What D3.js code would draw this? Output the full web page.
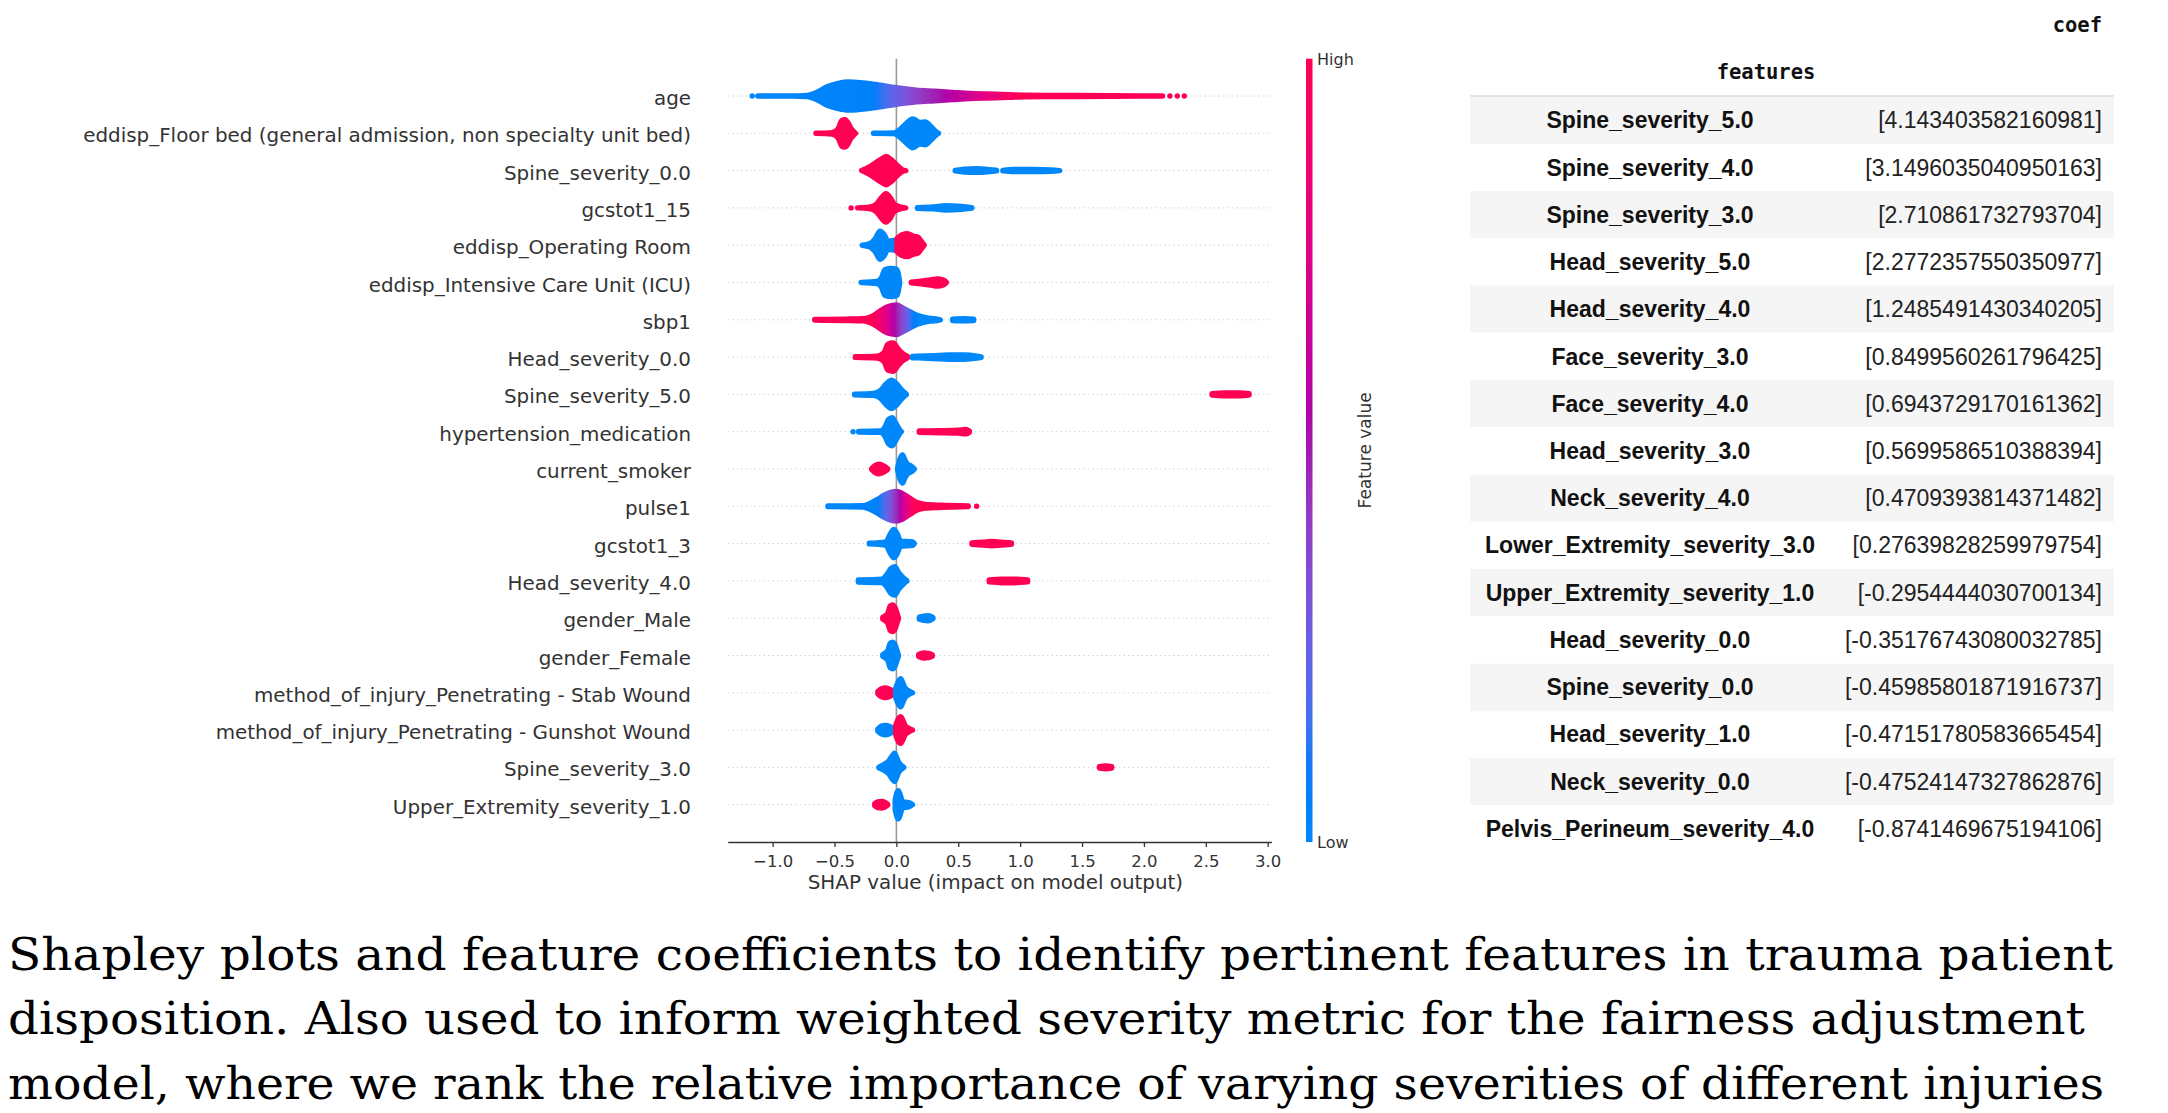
<!DOCTYPE html>
<html><head><meta charset="utf-8">
<script src="https://cdn.jsdelivr.net/npm/d3@7"></script>
<style>html,body{margin:0;padding:0;background:#fff;} svg{display:block}</style>
</head><body>
<svg id="chart" width="2168" height="1113"></svg>
<script>
// ---------------- DATA ----------------
const features = [
  "age",
  "eddisp_Floor bed (general admission, non specialty unit bed)",
  "Spine_severity_0.0",
  "gcstot1_15",
  "eddisp_Operating Room",
  "eddisp_Intensive Care Unit (ICU)",
  "sbp1",
  "Head_severity_0.0",
  "Spine_severity_5.0",
  "hypertension_medication",
  "current_smoker",
  "pulse1",
  "gcstot1_3",
  "Head_severity_4.0",
  "gender_Male",
  "gender_Female",
  "method_of_injury_Penetrating - Stab Wound",
  "method_of_injury_Penetrating - Gunshot Wound",
  "Spine_severity_3.0",
  "Upper_Extremity_severity_1.0"
];
const xTicks = [-1.0, -0.5, 0.0, 0.5, 1.0, 1.5, 2.0, 2.5, 3.0];
const colorbarLabels = ["Low", "High"];

// swarm outlines: [SHAP value, half-height in rows]
const age_all = [[-1.12,0.07],[-0.85,0.07],[-0.72,0.09],[-0.65,0.16],[-0.56,0.32],[-0.47,0.41],[-0.39,0.45],[-0.27,0.42],[-0.13,0.36],[-0.01,0.30],[0.16,0.23],[0.31,0.20],[0.45,0.17],[0.59,0.14],[0.74,0.125],[0.91,0.11],[1.03,0.095],[1.46,0.085],[2.15,0.075]];
const age_colors = [[-1.2,0],[-0.2,0.05],[0.0,0.25],[0.2,0.42],[0.4,0.55],[0.65,0.72],[0.9,0.92],[1.0,1],[2.2,1]];
const floor_high = [[-0.65,0.07],[-0.52,0.09],[-0.47,0.2],[-0.44,0.42],[-0.415,0.44],[-0.39,0.35],[-0.37,0.22],[-0.345,0.12],[-0.33,0.07]];
const floor_low = [[-0.185,0.06],[-0.02,0.08],[0.02,0.15],[0.075,0.32],[0.133,0.46],[0.19,0.36],[0.234,0.38],[0.277,0.26],[0.32,0.12],[0.34,0.07]];
const spine0_high = [[-0.28,0.07],[-0.213,0.18],[-0.156,0.31],[-0.112,0.40],[-0.083,0.45],[-0.04,0.36],[0.003,0.22],[0.046,0.1],[0.075,0.07]];
const spine0_low_a = [[0.475,0.08],[0.55,0.11],[0.65,0.12],[0.75,0.1],[0.81,0.08]];
const spine0_low_b = [[0.86,0.08],[0.95,0.1],[1.1,0.1],[1.25,0.09],[1.32,0.07]];
const gcs15_high = [[-0.313,0.07],[-0.22,0.09],[-0.16,0.18],[-0.12,0.35],[-0.085,0.45],[-0.05,0.35],[-0.02,0.18],[0.03,0.1],[0.075,0.07]];
const gcs15_low = [[0.17,0.08],[0.3,0.1],[0.4,0.13],[0.5,0.12],[0.61,0.08]];
const or_low = [[-0.276,0.07],[-0.213,0.12],[-0.17,0.25],[-0.133,0.45],[-0.098,0.35],[-0.069,0.18],[-0.026,0.2],[0.0,0.2]];
const or_high = [[0.005,0.25],[0.046,0.35],[0.09,0.38],[0.133,0.32],[0.177,0.28],[0.2,0.18],[0.225,0.07]];
const icu_low = [[-0.285,0.07],[-0.155,0.1],[-0.12,0.2],[-0.092,0.42],[-0.04,0.45],[0.003,0.42],[0.026,0.1]];
const icu_high = [[0.12,0.08],[0.2,0.11],[0.28,0.14],[0.33,0.17],[0.38,0.14],[0.405,0.07]];
const sbp_all = [[-0.66,0.08],[-0.41,0.09],[-0.27,0.1],[-0.21,0.15],[-0.156,0.25],[-0.098,0.38],[-0.04,0.45],[0.003,0.47],[0.046,0.4],[0.104,0.3],[0.162,0.2],[0.248,0.12],[0.306,0.1],[0.355,0.07]];
const sbp_colors = [[-0.7,1],[-0.2,1],[-0.12,0.85],[-0.03,0.6],[0.05,0.35],[0.13,0.1],[0.2,0],[0.4,0]];
const sbp_low = [[0.455,0.09],[0.55,0.1],[0.625,0.09]];
const head0_high = [[-0.332,0.08],[-0.156,0.1],[-0.098,0.2],[-0.069,0.42],[-0.026,0.45],[0.012,0.3],[0.046,0.18],[0.09,0.09]];
const head0_low = [[0.13,0.09],[0.3,0.11],[0.42,0.13],[0.55,0.13],[0.65,0.1],[0.685,0.08]];
const spine5_low = [[-0.338,0.08],[-0.184,0.1],[-0.127,0.18],[-0.083,0.35],[-0.04,0.45],[0.003,0.35],[0.046,0.18],[0.08,0.08]];
const spine5_high = [[2.55,0.09],[2.65,0.11],[2.78,0.11],[2.85,0.09]];
const hyper_low = [[-0.305,0.08],[-0.127,0.09],[-0.092,0.2],[-0.063,0.4],[-0.034,0.45],[-0.005,0.3],[0.032,0.1],[0.04,0.07]];
const hyper_high = [[0.185,0.09],[0.35,0.1],[0.5,0.11],[0.56,0.13],[0.59,0.09]];
const smoker_high = [[-0.2,0.08],[-0.17,0.17],[-0.14,0.2],[-0.11,0.17],[-0.085,0.12],[-0.07,0.07]];
const smoker_low = [[0.01,0.1],[0.03,0.35],[0.05,0.45],[0.07,0.3],[0.09,0.2],[0.12,0.15],[0.145,0.07]];
const pulse_all = [[-0.553,0.08],[-0.27,0.09],[-0.213,0.15],[-0.156,0.25],[-0.098,0.37],[-0.04,0.45],[0.003,0.47],[0.046,0.42],[0.104,0.3],[0.162,0.18],[0.234,0.12],[0.364,0.1],[0.58,0.08]];
const pulse_colors = [[-0.6,0],[-0.15,0.05],[-0.05,0.3],[0.03,0.55],[0.1,0.85],[0.15,1],[0.7,1]];
const gcs3_low = [[-0.219,0.08],[-0.083,0.12],[-0.054,0.3],[-0.02,0.45],[0.012,0.3],[0.032,0.14],[0.133,0.12],[0.145,0.07]];
const gcs3_high = [[0.61,0.09],[0.7,0.11],[0.77,0.13],[0.85,0.11],[0.93,0.09]];
const head4_low = [[-0.307,0.1],[-0.119,0.12],[-0.075,0.25],[-0.046,0.4],[-0.012,0.45],[0.017,0.3],[0.055,0.16],[0.085,0.08]];
const head4_high = [[0.75,0.1],[0.85,0.12],[0.95,0.12],[1.06,0.1]];
const male_high = [[-0.11,0.1],[-0.07,0.2],[-0.05,0.4],[-0.03,0.43],[-0.01,0.35],[0.01,0.15],[0.017,0.08]];
const male_low = [[0.185,0.1],[0.22,0.13],[0.26,0.14],[0.295,0.09]];
const female_low = [[-0.11,0.1],[-0.07,0.2],[-0.05,0.4],[-0.03,0.43],[-0.01,0.35],[0.01,0.15],[0.017,0.08]];
const female_high = [[0.18,0.1],[0.22,0.14],[0.26,0.13],[0.29,0.09]];
const stab_high = [[-0.15,0.1],[-0.12,0.18],[-0.09,0.2],[-0.055,0.17],[-0.02,0.1]];
const stab_low = [[-0.005,0.2],[0.02,0.4],[0.035,0.45],[0.05,0.35],[0.07,0.2],[0.1,0.12],[0.13,0.07]];
const gun_low = [[-0.15,0.1],[-0.12,0.18],[-0.09,0.2],[-0.055,0.17],[-0.02,0.1]];
const gun_high = [[-0.005,0.2],[0.02,0.4],[0.035,0.43],[0.05,0.35],[0.07,0.2],[0.1,0.12],[0.13,0.07]];
const spine3_low = [[-0.142,0.08],[-0.1,0.15],[-0.06,0.25],[-0.03,0.4],[-0.015,0.45],[0.0,0.35],[0.02,0.2],[0.05,0.1],[0.06,0.07]];
const spine3_high = [[1.64,0.09],[1.69,0.11],[1.74,0.09]];
const upper_high = [[-0.175,0.1],[-0.15,0.15],[-0.12,0.16],[-0.09,0.13],[-0.07,0.08]];
const upper_low = [[-0.01,0.2],[0.005,0.4],[0.015,0.45],[0.03,0.35],[0.05,0.15],[0.1,0.13],[0.13,0.07]];

// isolated points: [row, SHAP value, feature value 0..1]
const loneDots = [[0,-1.165,0],[0,2.21,1],[0,2.27,1],[0,2.326,1],[3,-0.366,1],[9,-0.35,0],[11,0.648,1]];

// clusters per row: [feature value (0 low,1 high) or colour stops, outline]
const swarm = [
  [[age_colors, age_all]],
  [[1, floor_high],[0, floor_low]],
  [[1, spine0_high],[0, spine0_low_a],[0, spine0_low_b]],
  [[1, gcs15_high],[0, gcs15_low]],
  [[0, or_low],[1, or_high]],
  [[0, icu_low],[1, icu_high]],
  [[sbp_colors, sbp_all],[0, sbp_low]],
  [[1, head0_high],[0, head0_low]],
  [[0, spine5_low],[1, spine5_high]],
  [[0, hyper_low],[1, hyper_high]],
  [[1, smoker_high],[0, smoker_low]],
  [[pulse_colors, pulse_all]],
  [[0, gcs3_low],[1, gcs3_high]],
  [[0, head4_low],[1, head4_high]],
  [[1, male_high],[0, male_low]],
  [[0, female_low],[1, female_high]],
  [[1, stab_high],[0, stab_low]],
  [[0, gun_low],[1, gun_high]],
  [[0, spine3_low],[1, spine3_high]],
  [[1, upper_high],[0, upper_low]]
];

// coefficient table
const tableHeaderIndex = "features";
const tableHeaderCol = "coef";
const tableFeatures = ["Spine_severity_5.0","Spine_severity_4.0","Spine_severity_3.0","Head_severity_5.0","Head_severity_4.0","Face_severity_3.0","Face_severity_4.0","Head_severity_3.0","Neck_severity_4.0","Lower_Extremity_severity_3.0","Upper_Extremity_severity_1.0","Head_severity_0.0","Spine_severity_0.0","Head_severity_1.0","Neck_severity_0.0","Pelvis_Perineum_severity_4.0"];
const tableCoefs = [4.143403582160981,3.1496035040950163,2.710861732793704,2.2772357550350977,1.2485491430340205,0.8499560261796425,0.6943729170161362,0.5699586510388394,0.4709393814371482,0.27639828259979754,-0.2954444030700134,-0.35176743080032785,-0.45985801871916737,-0.47151780583665454,-0.47524147327862876,-0.8741469675194106];

const captionLines = [
  "Shapley plots and feature coefficients to identify pertinent features in trauma patient",
  "disposition. Also used to inform weighted severity metric for the fairness adjustment",
  "model, where we rank the relative importance of varying severities of different injuries"
];

// ---------------- DRAW ----------------
const svg = d3.select("#chart");
svg.append("rect").attr("width",2168).attr("height",1113).attr("fill","#fff");
const defs = svg.append("defs");

function fvColor(t){
  t = Math.max(0, Math.min(1, t));
  const h = 267 + t*113, c = 70 + 20*t;
  const l = t < 0.5 ? 54 - 28*t : 40 + 28*(t-0.5);
  return d3.hcl(h % 360, c, l).formatHex();
}

const x = d3.scaleLinear().domain([-1.363, 3.03]).range([727.7, 1271.4]);
const y = d3.scaleLinear().domain([-1, features.length]).range([842, 58.7]);
const rowY = i => y(features.length - 1 - i);
const rowUnit = y(0) - y(1);
const dotR = 2.7;
const TXT = "#333333";

// row dotted guide lines
svg.append("g").selectAll("line").data(features).join("line")
  .attr("x1", x.range()[0]).attr("x2", x.range()[1])
  .attr("y1", (d,i)=>rowY(i)).attr("y2",(d,i)=>rowY(i))
  .attr("stroke","#cccccc").attr("stroke-width",1).attr("stroke-dasharray","1.3,3.2");

// zero line
svg.append("line").attr("x1",x(0)).attr("x2",x(0)).attr("y1",y(features.length)).attr("y2",y(-1))
  .attr("stroke","#999999").attr("stroke-width",1.6);

// swarms
const gS = svg.append("g");
let gid = 0;
swarm.forEach((clusters, i) => {
  const cy = rowY(i);
  const area = d3.area()
    .x(d => x(d[0]))
    .y0(d => cy - Math.max(0, d[1]*rowUnit - dotR))
    .y1(d => cy + Math.max(0, d[1]*rowUnit - dotR))
    .curve(d3.curveMonotoneX);
  clusters.forEach(([fv, pts]) => {
    let paint;
    if (Array.isArray(fv)) {
      const id = "g" + (gid++);
      const x1 = x(fv[0][0]), x2 = x(fv[fv.length-1][0]);
      const grad = defs.append("linearGradient").attr("id", id)
        .attr("gradientUnits","userSpaceOnUse").attr("x1",x1).attr("x2",x2).attr("y1",0).attr("y2",0);
      for (let k = 0; k < fv.length; k++) {
        const a = fv[k], b = fv[Math.min(k+1, fv.length-1)];
        const n = k < fv.length-1 ? 4 : 1;
        for (let s = 0; s < n; s++) {
          const f = s/n;
          const vv = a[0] + (b[0]-a[0])*f, tt = a[1] + (b[1]-a[1])*f;
          grad.append("stop").attr("offset", (x(vv)-x1)/(x2-x1)).attr("stop-color", fvColor(tt));
        }
      }
      paint = `url(#${id})`;
    } else paint = fvColor(fv);
    gS.append("path").attr("d", area(pts)).attr("fill", paint)
      .attr("stroke", paint).attr("stroke-width", dotR*2)
      .attr("stroke-linejoin","round").attr("stroke-linecap","round");
  });
});
gS.selectAll("circle").data(loneDots).join("circle")
  .attr("cx", d => x(d[1])).attr("cy", d => rowY(d[0])).attr("r", dotR)
  .attr("fill", d => fvColor(d[2]));

// y labels
svg.append("g").selectAll("text").data(features).join("text")
  .attr("x", 691).attr("y", (d,i)=>rowY(i) + 9)
  .attr("text-anchor","end").attr("font-family","DejaVu Sans").attr("font-size",19.9)
  .attr("fill",TXT).text(d=>d);

// x axis
const gx = svg.append("g").attr("transform",`translate(0,${y(-1)})`)
  .call(d3.axisBottom(x).tickValues(xTicks).tickFormat(d3.format(".1f")).tickSize(5).tickSizeOuter(0));
gx.attr("font-family","DejaVu Sans").attr("font-size",16.5);
gx.select(".domain").attr("stroke",TXT).attr("stroke-width",1.5);
gx.selectAll(".tick line").attr("stroke",TXT).attr("stroke-width",1.3);
gx.selectAll(".tick text").attr("fill",TXT).attr("y",25).attr("dy",0);
svg.append("text").attr("x", x(0.8)).attr("y", 889).attr("text-anchor","middle")
  .attr("font-family","DejaVu Sans").attr("font-size",19.9).attr("fill",TXT)
  .text("SHAP value (impact on model output)");

// colour bar
const cbG = defs.append("linearGradient").attr("id","cbar").attr("x1",0).attr("x2",0).attr("y1",1).attr("y2",0);
d3.range(0, 1.0001, 0.05).forEach(t => cbG.append("stop").attr("offset", t).attr("stop-color", fvColor(t)));
const cbScale = d3.scaleLinear().domain([0,1]).range([y(-1), y(features.length)]);
svg.append("rect").attr("x",1306).attr("width",6.5).attr("y",cbScale(1)).attr("height",cbScale(0)-cbScale(1)).attr("fill","url(#cbar)");
svg.append("g").selectAll("text").data(colorbarLabels).join("text")
  .attr("x",1317).attr("y",(d,i)=>cbScale(i)+6)
  .attr("font-family","DejaVu Sans").attr("font-size",16).attr("fill",TXT).text(d=>d);
svg.append("text").attr("transform",`translate(1365,${(cbScale(0)+cbScale(1))/2}) rotate(-90)`)
  .attr("text-anchor","middle").attr("dominant-baseline","central")
  .attr("font-family","DejaVu Sans").attr("font-size",17).attr("fill",TXT).text("Feature value");

// table
const tL = 1470, tR = 2114, tTop = 96.7, tRow = 47.24;
const tY = d3.scaleLinear().domain([0, tableFeatures.length]).range([tTop, tTop + tRow*tableFeatures.length]);
const gt = svg.append("g");
gt.selectAll("rect").data(tableFeatures).join("rect")
  .attr("x",tL).attr("width",tR-tL).attr("y",(d,i)=>tY(i)).attr("height",tRow)
  .attr("fill",(d,i)=> i%2===0 ? "#f5f5f5" : "#ffffff");
gt.append("line").attr("x1",tL).attr("x2",tR).attr("y1",96).attr("y2",96).attr("stroke","#dcdcdc").attr("stroke-width",1.5);
gt.append("text").attr("x",2102).attr("y",31.5).attr("text-anchor","end")
  .attr("font-family","DejaVu Sans Mono").attr("font-weight","bold").attr("font-size",20.5).attr("fill","#111").text(tableHeaderCol);
gt.append("text").attr("x",1766).attr("y",79).attr("text-anchor","middle")
  .attr("font-family","DejaVu Sans Mono").attr("font-weight","bold").attr("font-size",20.5).attr("fill","#111").text(tableHeaderIndex);
gt.selectAll("text.f").data(tableFeatures).join("text").attr("class","f")
  .attr("x",1650).attr("y",(d,i)=>tY(i)+tRow/2+8).attr("text-anchor","middle")
  .attr("font-family","Liberation Sans").attr("font-weight","bold").attr("font-size",23).attr("fill","#111").text(d=>d);
gt.selectAll("text.c").data(tableCoefs).join("text").attr("class","c")
  .attr("x",2102).attr("y",(d,i)=>tY(i)+tRow/2+8).attr("text-anchor","end")
  .attr("font-family","Liberation Sans").attr("font-size",23).attr("fill","#222").text(d=>`[${d}]`);

// caption
const capLen = [2105, 2077, 2096];
svg.append("g").selectAll("text").data(captionLines).join("text")
  .attr("x",8).attr("y",(d,i)=>970 + i*64.35)
  .attr("font-family","DejaVu Serif").attr("font-size",44).attr("fill","#000")
  .attr("textLength",(d,i)=>capLen[i]).attr("lengthAdjust","spacingAndGlyphs").text(d=>d);
</script></body></html>
